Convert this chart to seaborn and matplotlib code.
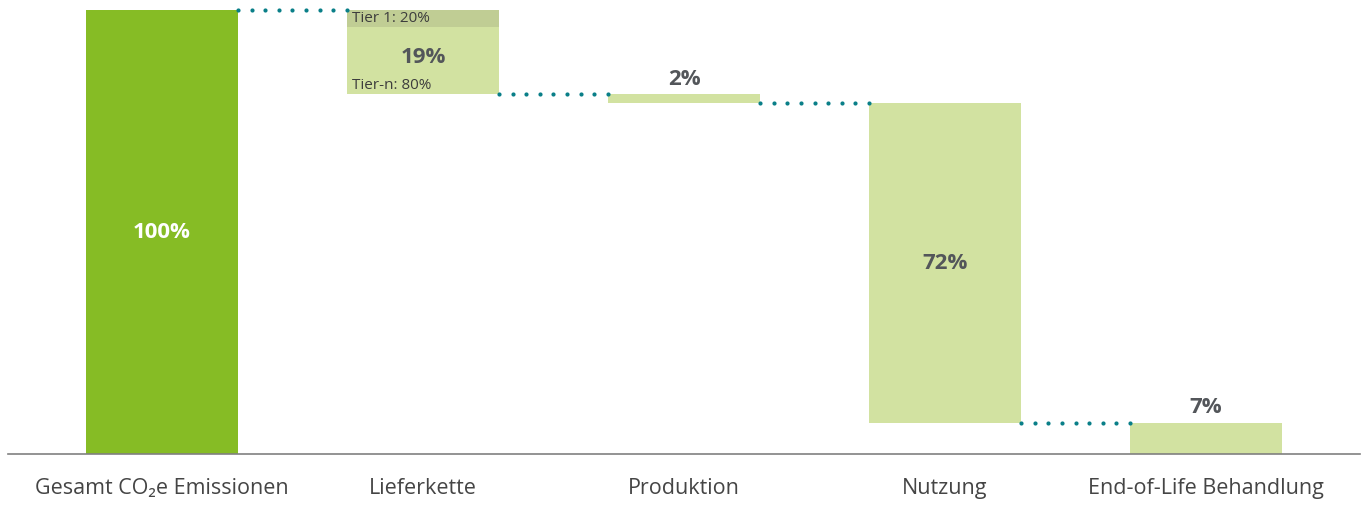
import numpy as np
import pandas as pd
import matplotlib
matplotlib.use("Agg")
import matplotlib.pyplot as plt
import seaborn as sns

categories = ["Gesamt CO\u2082e Emissionen", "Lieferkette", "Produktion", "Nutzung", "End-of-Life Behandlung"]
values = [100, 19, 2, 72, 7]
value_labels = ["100%", "19%", "2%", "72%", "7%"]
tier1_share = 0.20
tier_labels = ["Tier 1: 20%", "Tier-n: 80%"]

# waterfall bottoms
bottoms = [0]
level = 100
for v in values[1:]:
    level -= v
    bottoms.append(level)
tops = [b + v for b, v in zip(bottoms, values)]

sns.set_theme(style="white")
plt.rcParams['font.family'] = ['Open Sans', 'DejaVu Sans']

GREEN = "#86bc25"
LIGHT = "#d2e2a1"
TIER = "#c0cd94"
TEXT = "#53565a"
DOT = "#0a7f88"

fig = plt.figure(figsize=(13.64, 5.07), dpi=100)
ax = fig.add_axes([8/1364, 53/507, 1352/1364, 444/507])

W = 0.582
df = pd.DataFrame({"cat": categories, "val": values, "bottom": bottoms})
sns.barplot(data=df, x="cat", y="val", bottom=df["bottom"].values, color=LIGHT,
            width=W, saturation=1, ax=ax, linewidth=0)
ax.patches[0].set_facecolor(GREEN)

# tier 1 overlay
t1 = values[1] * tier1_share
ax.bar([1], [t1], bottom=[tops[1] - t1], width=W, color=TIER, linewidth=0, zorder=3)

# connectors (dotted)
conn_levels = [tops[0], bottoms[1], bottoms[2], bottoms[3]]
for i, lv in enumerate(conn_levels):
    xs = np.linspace(i + W/2, i + 1 - W/2, 9)
    ax.scatter(xs, np.full_like(xs, lv), s=9, color=DOT, linewidths=0, zorder=4, clip_on=False)

# value labels
ax.text(0, 50, value_labels[0], ha="center", va="center", color="white",
        fontsize=16, fontweight="bold")
ax.text(1, (tops[1] + bottoms[1]) / 2 - 1.3, value_labels[1], ha="center", va="center",
        color=TEXT, fontsize=16, fontweight="bold")
ax.text(2, tops[2] + 1.0, value_labels[2], ha="center", va="bottom",
        color=TEXT, fontsize=16, fontweight="bold")
ax.text(3, (tops[3] + bottoms[3]) / 2, value_labels[3], ha="center", va="center",
        color=TEXT, fontsize=16, fontweight="bold")
ax.text(4, tops[4] + 1.0, value_labels[4], ha="center", va="bottom",
        color=TEXT, fontsize=16, fontweight="bold")

# tier labels
ax.text(1 - W/2 + 0.02, tops[1] - t1/2, tier_labels[0], ha="left", va="center",
        color="#3d3d3d", fontsize=11, zorder=5)
ax.text(1 - W/2 + 0.02, bottoms[1] + 2.0, tier_labels[1], ha="left", va="center",
        color="#3d3d3d", fontsize=11, zorder=5)

ax.set_xlim(-0.59, 4.59)
ax.set_ylim(0, 100)
ax.set_xlabel("")
ax.set_ylabel("")
ax.set_yticks([])
for s in ["top", "right", "left"]:
    ax.spines[s].set_visible(False)
ax.spines["bottom"].set_color("#808080")
ax.spines["bottom"].set_linewidth(1.2)
ax.tick_params(axis="x", length=0, pad=17, labelsize=15.5, labelcolor="#454545")

fig.savefig("out.png", dpi=100, facecolor="white")
